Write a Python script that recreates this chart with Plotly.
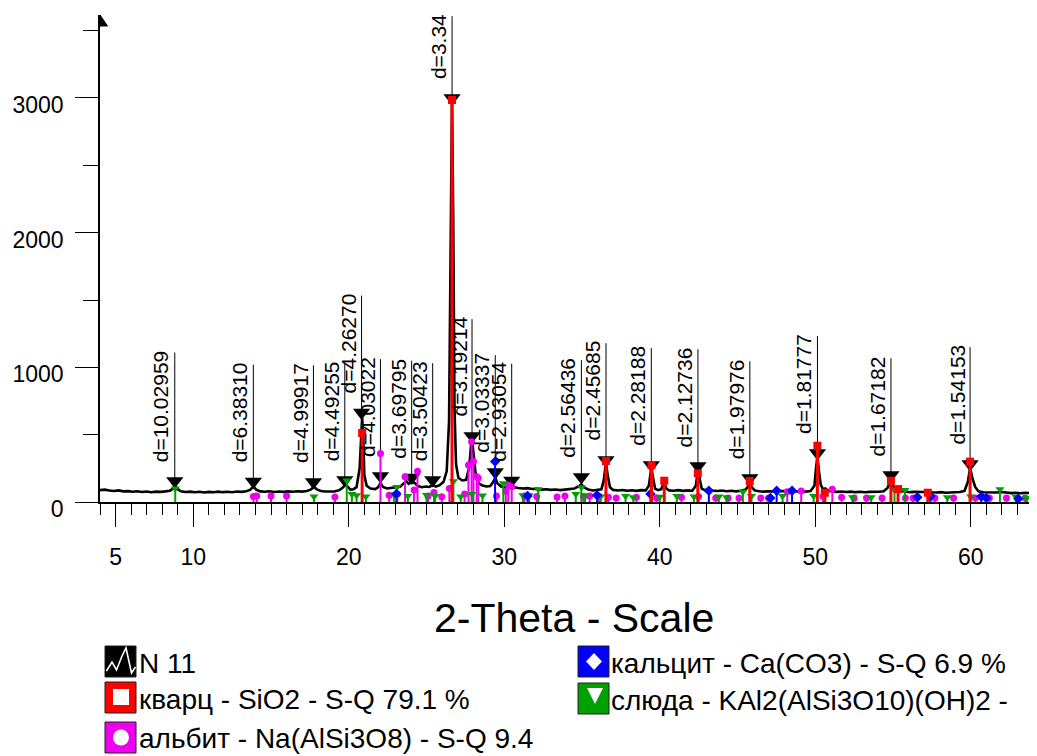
import math
import plotly.graph_objects as go

# ---------------- data ----------------
two_theta = [4.0, 4.3, 4.6, 4.9, 5.2, 5.5, 5.8, 6.1, 6.4, 6.7, 7.0, 7.3, 7.6, 7.9, 8.2, 8.5, 8.7, 8.84, 9.0, 9.2,
             9.5, 9.8, 10.1, 10.4, 10.7, 11.0, 11.3, 11.6, 11.9, 12.2, 12.5, 12.8, 13.1, 13.4, 13.65, 13.86, 14.05,
             14.3, 14.6, 14.9, 15.2, 15.5, 15.8, 16.1, 16.4, 16.7, 17.0, 17.3, 17.55, 17.76, 17.95, 18.2, 18.5,
             18.8, 19.1, 19.4, 19.6, 19.8, 19.95, 20.1, 20.3, 20.5, 20.7, 20.8, 20.86, 20.93, 21.0, 21.15, 21.4,
             21.7, 21.9, 22.04, 22.2, 22.45, 22.7, 23.0, 23.3, 23.55, 23.7, 23.85, 24.05, 24.25, 24.45, 24.7,
             24.95, 25.2, 25.4, 25.6, 25.85, 26.1, 26.3, 26.45, 26.55, 26.64, 26.72, 26.8, 26.9, 27.05, 27.3,
             27.55, 27.75, 27.87, 27.94, 28.02, 28.15, 28.35, 28.6, 28.85, 29.1, 29.3, 29.42, 29.55, 29.8, 30.05,
             30.3, 30.48, 30.65, 30.9, 31.2, 31.5, 31.8, 32.1, 32.4, 32.7, 33.0, 33.3, 33.6, 33.9, 34.2, 34.5,
             34.75, 34.96, 35.15, 35.4, 35.7, 36.0, 36.25, 36.4, 36.54, 36.65, 36.8, 37.0, 37.3, 37.6, 37.9,
             38.2, 38.5, 38.8, 39.1, 39.3, 39.46, 39.57, 39.7, 39.9, 40.1, 40.29, 40.42, 40.6, 40.9, 41.2, 41.5,
             41.8, 42.1, 42.32, 42.46, 42.57, 42.7, 42.9, 43.15, 43.4, 43.7, 44.0, 44.3, 44.6, 44.9, 45.2, 45.5,
             45.65, 45.79, 45.92, 46.1, 46.4, 46.7, 47.0, 47.3, 47.6, 47.9, 48.2, 48.5, 48.8, 49.1, 49.4, 49.7,
             49.95, 50.05, 50.14, 50.24, 50.35, 50.5, 50.65, 50.85, 51.1, 51.4, 51.7, 52.0, 52.3, 52.6, 52.9,
             53.2, 53.5, 53.8, 54.1, 54.4, 54.65, 54.87, 55.0, 55.15, 55.33, 55.5, 55.8, 56.1, 56.4, 56.7, 57.0,
             57.24, 57.5, 57.8, 58.1, 58.4, 58.7, 59.0, 59.3, 59.6, 59.82, 59.96, 60.06, 60.15, 60.3, 60.5, 60.8,
             61.1, 61.4, 61.7, 62.0, 62.3, 62.6, 62.9, 63.2, 63.5, 63.8, 64.0, 64.3]
counts = [88, 92, 85, 82, 86, 79, 81, 76, 80, 74, 78, 73, 77, 75, 79, 84, 100, 118, 95, 80,
          74, 77, 72, 76, 71, 75, 72, 77, 73, 76, 72, 78, 75, 80, 90, 115, 92,
          79, 76, 80, 74, 78, 75, 79, 76, 80, 77, 82, 92, 112, 94, 82, 78,
          81, 79, 88, 105, 130, 110, 92, 95, 110, 250, 560, 625, 480, 200, 120, 100,
          96, 110, 140, 112, 100, 104, 110, 114, 140, 155, 135, 150, 140, 118, 110,
          115, 112, 128, 115, 125, 150, 230, 600, 1900, 2995, 2100, 700, 280, 180, 160,
          165, 260, 430, 452, 380, 220, 140, 122, 115, 118, 150, 182, 140, 115, 108,
          112, 128, 110, 104, 100, 103, 97, 99, 92, 95, 90, 93, 88, 92, 95, 100,
          115, 130, 108, 92, 86, 88, 95, 160, 292, 200, 110, 90, 86, 89, 84,
          87, 83, 88, 86, 120, 255, 180, 100, 88, 95, 150, 100, 86, 84, 88, 83,
          86, 84, 120, 240, 170, 100, 88, 92, 85, 82, 85, 80, 83, 79, 84, 90,
          110, 150, 110, 86, 80, 77, 80, 78, 82, 79, 81, 84, 78, 80, 77, 82,
          120, 250, 335, 230, 130, 95, 100, 82, 78, 75, 78, 74, 77, 73, 76,
          72, 75, 73, 76, 80, 105, 162, 120, 95, 100, 82, 76, 73, 75, 72, 74,
          80, 72, 70, 73, 69, 72, 70, 74, 82, 150, 252, 190, 160, 110, 80, 72,
          70, 67, 70, 74, 69, 66, 69, 65, 68, 66, 72, 66]

d_labels = ["d=10.02959", "d=6.38310", "d=4.99917", "d=4.49255", "d=4.26270", "d=4.03022", "d=3.69795",
            "d=3.50423", "d=3.34", "d=3.19214", "d=3.03337", "d=2.93054", "d=2.56436", "d=2.45685",
            "d=2.28188", "d=2.12736", "d=1.97976", "d=1.81777", "d=1.67182", "d=1.54153"]
d_values = [10.02959, 6.38310, 4.99917, 4.49255, 4.26270, 4.03022, 3.69795, 3.50423, 3.343, 3.19214,
            3.03337, 2.93054, 2.56436, 2.45685, 2.28188, 2.12736, 1.97976, 1.81777, 1.67182, 1.54153]
d_marker_counts = [156, 152, 148, 163, 665, 193, 182, 163, 3000, 490, 223, 160, 186, 312, 275, 267, 178,
                   364, 200, 282]

quartz_pos = [20.86, 26.64, 36.54, 39.47, 40.29, 42.45, 45.79, 50.14, 50.62, 54.87, 55.33, 57.24, 59.96, 64.03]
quartz_int = [512, 2985, 304, 275, 158, 213, 156, 418, 69, 158, 96, 69, 300, 96]

albite_pos = [13.87, 14.08, 15.0, 16.0, 19.11, 22.04, 22.6, 23.12, 23.62, 24.2, 24.42, 25.1, 25.48, 25.98,
              26.47, 27.45, 27.7, 27.9, 28.02, 28.23, 28.33, 29.5, 30.1, 30.26, 30.48, 31.3, 32.09, 33.4, 33.9,
              35.1, 35.5, 36.1, 36.7, 37.2, 38.5, 39.8, 41.4, 42.5, 43.6, 44.4, 45.1, 46.5, 47.0, 48.2, 49.1,
              50.5, 51.1, 51.7, 52.5, 53.3, 54.3, 55.8, 56.3, 57.7, 58.9, 60.3, 61.2, 62.3, 63.5]
albite_int = [40, 45, 45, 45, 38, 361, 50, 60, 188, 90, 228, 45, 70, 39,
              101, 60, 275, 448, 300, 188, 178, 45, 80, 126, 114, 45, 40, 37, 45,
              40, 45, 40, 35, 30, 35, 30, 35, 40, 30, 30, 30, 30, 30, 77, 82,
              40, 94, 35, 30, 30, 30, 30, 30, 30, 30, 30, 30, 30, 30]

calcite_pos = [23.06, 29.41, 31.5, 35.97, 39.40, 43.16, 47.12, 47.52, 48.51, 56.57, 57.41, 60.68, 61.0, 63.06]
calcite_int = [60, 300, 45, 50, 60, 84, 30, 84, 84, 35, 45, 40, 30, 25]

mica_pos = [8.84, 17.76, 19.87, 20.2, 20.5, 21.1, 22.9, 23.1, 23.8, 25.0, 25.55, 26.73, 27.2, 27.92, 28.6,
            29.94, 31.2, 31.6, 32.19, 34.6, 34.96, 35.2, 36.2, 37.8, 38.3, 40.0, 41.1, 42.2, 43.8, 44.3,
            45.35, 45.9, 47.9, 49.9, 52.4, 53.6, 55.1, 55.77, 58.5, 60.0, 61.88, 62.9, 63.6]
mica_int = [100, 40, 160, 60, 50, 40, 55, 111, 45, 52, 45, 155, 40, 60, 48,
            140, 50, 50, 94, 60, 110, 50, 40, 45, 35, 39, 45, 40, 40, 35,
            77, 45, 45, 45, 35, 35, 90, 89, 35, 40, 94, 40, 30]

x_tick_vals = [5, 10, 20, 30, 40, 50, 60]
y_tick_vals = [0, 1000, 2000, 3000]

legend_labels = ["N 11", "кварц - SiO2 - S-Q 79.1 %", "альбит - Na(AlSi3O8) - S-Q 9.4",
                 "кальцит - Ca(CO3) - S-Q 6.9 %", "слюда - KAl2(AlSi3O10)(OH)2 -"]
x_title = "2-Theta - Scale"

WAVELENGTH = 1.5406

# ---------------- layout geometry ----------------
# the page body adds an 8 px margin, so the figure is 8 px smaller and offset
OFF = 8
W, H = 1037 - OFF, 756 - OFF
ML, MT = 100 - OFF, 15 - OFF
MR = 0
MB = H - (502 - OFF)
PW, PH = W - ML - MR, H - MT - MB
X_RANGE = [4.0, 4.0 + PW / 15.548]
Y_RANGE = [0, PH * 1000 / 134.67]
CNT_PER_PX = (Y_RANGE[1] - Y_RANGE[0]) / PH

FONT = "Liberation Sans, Arial, sans-serif"
RED, MAG, BLUE, GREEN = "#FF0000", "#EE00EE", "#0000FF", "#00A000"


def pxx(x):
    # reference-pixel x -> paper fraction
    return (x - OFF - ML) / PW


def pxy(y):
    # reference-pixel y -> paper fraction
    return (H - MB - (y - OFF)) / PH


def two_theta_from_d(d):
    return 2 * math.degrees(math.asin(WAVELENGTH / (2 * d)))


fig = go.Figure()

# diffraction pattern
fig.add_trace(go.Scatter(x=two_theta, y=counts, mode="lines",
                         line=dict(color="black", width=2.6), hoverinfo="skip"))

# d-spacing label lines, markers and text
CHAR_W = {"d": 0.556, "=": 0.584, ".": 0.278}
LABEL_FS = 21
GAP_PX = 17
d_x = [two_theta_from_d(d) for d in d_values]
lx, ly = [], []
for xv, yv, lab in zip(d_x, d_marker_counts, d_labels):
    L = sum(CHAR_W.get(c, 0.556) for c in lab) * LABEL_FS
    top = yv + (GAP_PX + L) * CNT_PER_PX
    lx += [xv, xv, None]
    ly += [yv, top, None]
fig.add_trace(go.Scatter(x=lx, y=ly, mode="lines", line=dict(color="black", width=1), hoverinfo="skip"))


def sticks(pos, inten, color, width, symbol, size):
    xs, ys = [], []
    for p, h in zip(pos, inten):
        xs += [p, p, None]
        ys += [0, h, None]
    fig.add_trace(go.Scatter(x=xs, y=ys, mode="lines", line=dict(color=color, width=width), hoverinfo="skip"))
    fig.add_trace(go.Scatter(x=pos, y=inten, mode="markers",
                             marker=dict(symbol=symbol, size=size, color=color, line=dict(width=0)),
                             hoverinfo="skip"))


fig.add_trace(go.Scatter(x=d_x, y=d_marker_counts, mode="markers",
                         marker=dict(symbol="triangle-down", size=15, color="black"), hoverinfo="skip"))

sticks(albite_pos, albite_int, MAG, 2, "circle", 7)
sticks(mica_pos, mica_int, GREEN, 2, "triangle-down", 8)
sticks(calcite_pos, calcite_int, BLUE, 2, "diamond", 8)
sticks(quartz_pos, quartz_int, RED, 3, "square", 8)

annotations = []
for xv, yv, lab in zip(d_x, d_marker_counts, d_labels):
    annotations.append(dict(x=xv, y=yv, xref="x", yref="y", text=lab, showarrow=False, textangle=-90,
                            xanchor="right", yanchor="bottom", yshift=GAP_PX, xshift=0,
                            font=dict(family=FONT, size=LABEL_FS, color="black")))

# axis title
annotations.append(dict(x=pxx(574), y=pxy(618), xref="paper", yref="paper", text=x_title, showarrow=False,
                        xanchor="center", yanchor="middle", font=dict(family=FONT, size=41, color="black")))

# legend (manual, two columns)
shapes = []
leg_pos = [(105, 646), (105, 682), (105, 722), (578, 646), (578, 683)]
leg_cols = ["black", RED, MAG, BLUE, GREEN]
for (x0, y0), col in zip(leg_pos, leg_cols):
    shapes.append(dict(type="rect", xref="paper", yref="paper", x0=pxx(x0), x1=pxx(x0 + 31),
                       y0=pxy(y0), y1=pxy(y0 + 31), fillcolor=col, line=dict(color="#202020", width=1)))


def path(points):
    return "M " + " L ".join(f"{pxx(a):.5f},{pxy(b):.5f}" for a, b in points)


# N 11 zigzag
shapes.append(dict(type="path", xref="paper", yref="paper",
                   path=path([(106.5, 671), (112, 662), (116.5, 670), (122, 656), (126, 648), (131.5, 673),
                              (135.5, 667)]),
                   line=dict(color="white", width=1.6)))
# red inner square
shapes.append(dict(type="rect", xref="paper", yref="paper", x0=pxx(113), x1=pxx(129), y0=pxy(689), y1=pxy(705),
                   fillcolor="white", line=dict(width=0)))
# magenta inner circle
shapes.append(dict(type="circle", xref="paper", yref="paper", x0=pxx(113), x1=pxx(129), y0=pxy(729.5),
                   y1=pxy(745.5), fillcolor="white", line=dict(width=0)))
# blue inner diamond
shapes.append(dict(type="path", xref="paper", yref="paper",
                   path=path([(594, 653), (602, 661.5), (594, 670), (586, 661.5)]) + " Z",
                   fillcolor="white", line=dict(width=0)))
# green inner triangle
shapes.append(dict(type="path", xref="paper", yref="paper",
                   path=path([(587, 688), (603, 688), (595, 704)]) + " Z",
                   fillcolor="white", line=dict(width=0)))
# y axis arrow head
shapes.append(dict(type="path", xref="paper", yref="paper",
                   path=path([(100, 15), (107.5, 26), (100, 26)]) + " Z",
                   fillcolor="black", line=dict(color="black", width=1)))

leg_text_pos = [(137, 663), (137, 699), (137, 738), (609, 663), (609, 700)]
for (x0, y0), lab in zip(leg_text_pos, legend_labels):
    annotations.append(dict(x=pxx(x0), y=pxy(y0), xref="paper", yref="paper", text=lab, showarrow=False,
                            xanchor="left", yanchor="middle", font=dict(family=FONT, size=28, color="black")))

fig.update_layout(
    width=W, height=H, margin=dict(l=ML, r=MR, t=MT, b=MB, pad=0),
    paper_bgcolor="white", plot_bgcolor="white", showlegend=False,
    font=dict(family=FONT, color="black"),
    annotations=annotations, shapes=shapes,
    xaxis=dict(range=X_RANGE, showgrid=False, zeroline=False, showline=True, linecolor="black", linewidth=1.5,
               tickmode="array", tickvals=x_tick_vals, ticktext=[str(v) for v in x_tick_vals],
               ticks="outside", ticklen=23, tickwidth=1, tickcolor="black",
               tickfont=dict(family=FONT, size=23, color="black"), ticklabelstandoff=11,
               minor=dict(dtick=1, tick0=0, ticks="outside", ticklen=11, tickwidth=1, tickcolor="black")),
    yaxis=dict(range=Y_RANGE, showgrid=False, zeroline=False, showline=True, linecolor="black", linewidth=1.5,
               tickmode="array", tickvals=y_tick_vals, ticktext=[str(v) for v in y_tick_vals],
               ticks="outside", ticklen=23, tickwidth=1, tickcolor="black",
               tickfont=dict(family=FONT, size=23, color="black"), ticklabelstandoff=7, ticklabelshift=7,
               minor=dict(dtick=500, tick0=0, ticks="outside", ticklen=15, tickwidth=1, tickcolor="black")),
)

fig.write_html("out.html")
